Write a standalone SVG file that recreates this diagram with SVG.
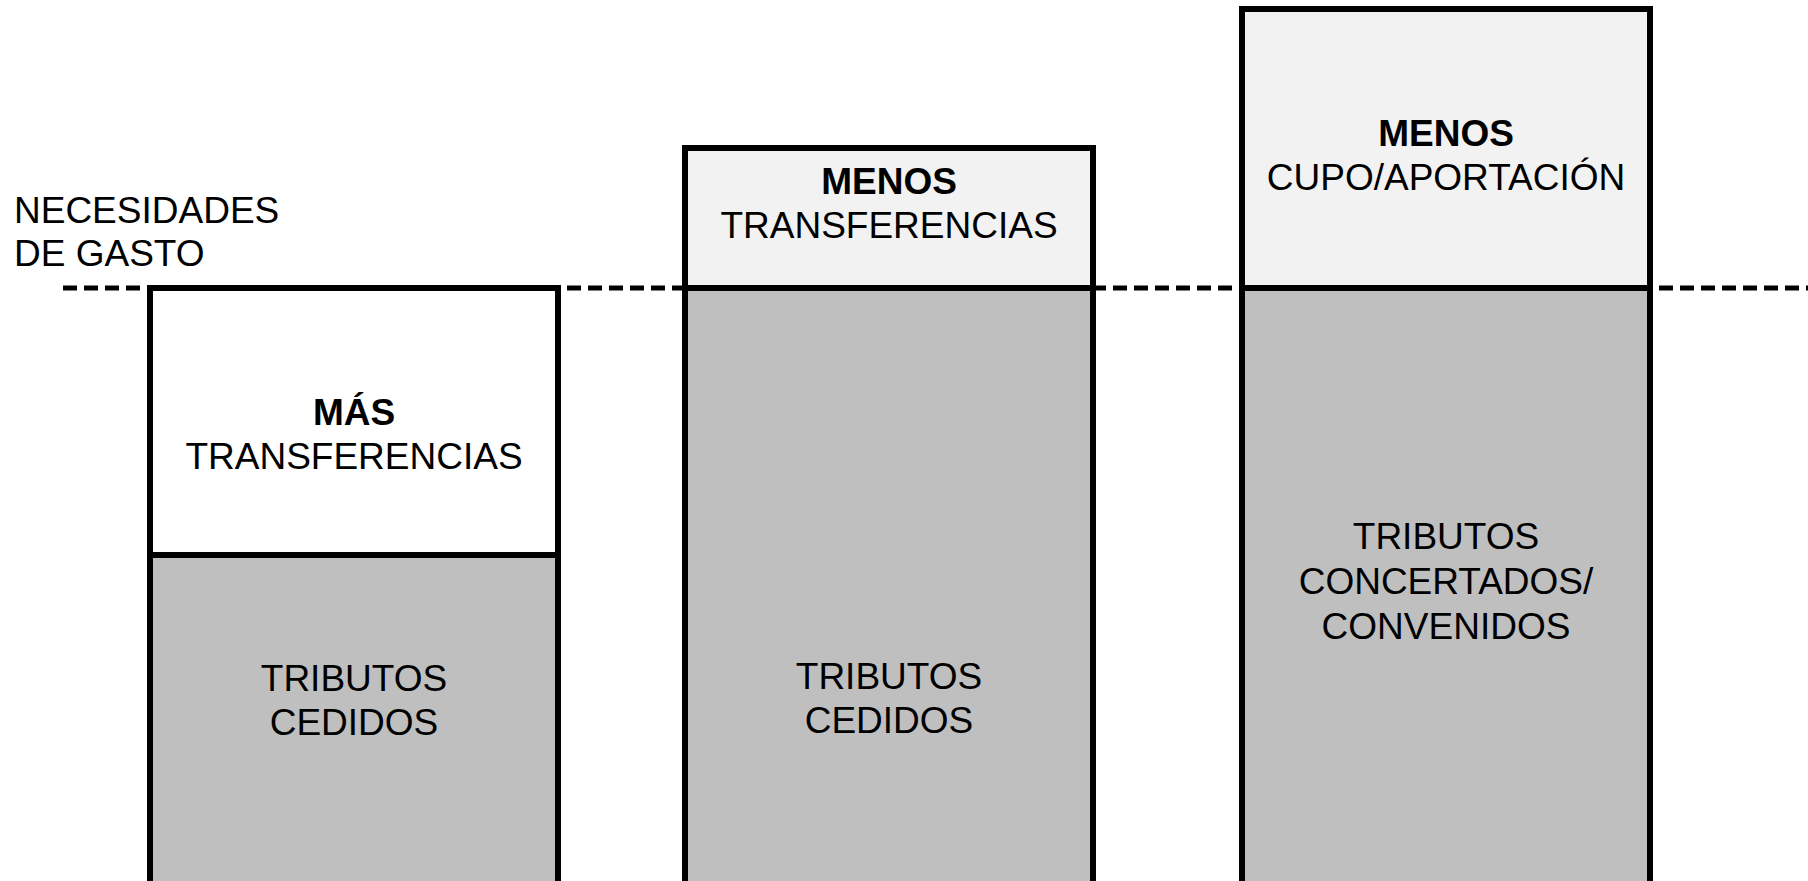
<svg xmlns="http://www.w3.org/2000/svg" width="1808" height="881" viewBox="0 0 1808 881">
<style>
text{font-family:"Liberation Sans",Arial,sans-serif;font-size:37px;fill:#000;text-anchor:middle}
.b{font-weight:bold}
.l{text-anchor:start}
.box{stroke:#000;stroke-width:6}
.w{fill:#fff}.lg{fill:#f2f2f2}.g{fill:#bfbfbf}
</style>
<rect width="1808" height="881" fill="#fff"/>
<g id="connectors">
<line x1="63" y1="288" x2="1808" y2="288" stroke="#000" stroke-width="5" stroke-dasharray="14 7"/>
</g>
<g id="label-necesidades">
<text class="l" x="14" y="223">NECESIDADES</text>
<text class="l" x="14" y="266">DE GASTO</text>
</g>
<g id="col1">
<rect class="box g" x="150" y="555" width="408" height="340"/>
<rect class="box w" x="150" y="288" width="408" height="267"/>
<text class="b" x="354" y="425">MÁS</text>
<text x="354" y="469">TRANSFERENCIAS</text>
<text x="354" y="691">TRIBUTOS</text>
<text x="354" y="735">CEDIDOS</text>
</g>
<g id="col2">
<rect class="box g" x="685" y="288" width="408" height="607"/>
<rect class="box lg" x="685" y="148" width="408" height="140"/>
<text class="b" x="889" y="194">MENOS</text>
<text x="889" y="238">TRANSFERENCIAS</text>
<text x="889" y="689">TRIBUTOS</text>
<text x="889" y="733">CEDIDOS</text>
</g>
<g id="col3">
<rect class="box g" x="1242" y="288" width="408" height="607"/>
<rect class="box lg" x="1242" y="9" width="408" height="279"/>
<text class="b" x="1446" y="146">MENOS</text>
<text x="1446" y="190">CUPO/APORTACIÓN</text>
<text x="1446" y="549">TRIBUTOS</text>
<text x="1446" y="594">CONCERTADOS/</text>
<text x="1446" y="639">CONVENIDOS</text>
</g>
</svg>
